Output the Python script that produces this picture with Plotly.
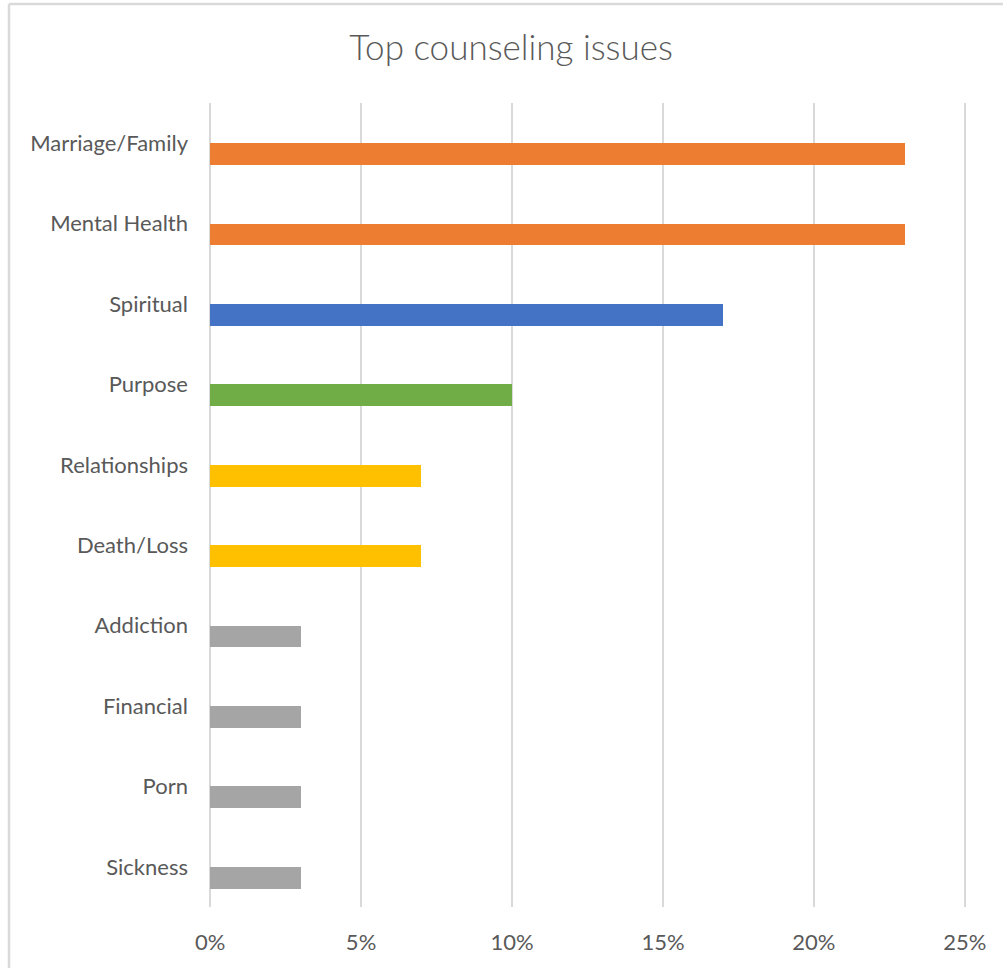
import plotly.graph_objects as go

# Categories and shares of counseling requests
categories = ["Marriage/Family", "Mental Health", "Spiritual", "Purpose", "Relationships",
              "Death/Loss", "Addiction", "Financial", "Porn", "Sickness"]
shares = [0.23, 0.23, 0.17, 0.10, 0.07, 0.07, 0.03, 0.03, 0.03, 0.03]
bar_colors = ["#ED7D31", "#ED7D31", "#4472C4", "#70AD47", "#FFC000",
              "#FFC000", "#A5A5A5", "#A5A5A5", "#A5A5A5", "#A5A5A5"]
x_ticks = [0, 0.05, 0.10, 0.15, 0.20, 0.25]
x_tick_text = ["0%", "5%", "10%", "15%", "20%", "25%"]

W, H = 1003, 968
L, R, T, B = 208, 36, 103, 61
text_color = "#595959"
font_family = "Lato, 'Open Sans', sans-serif"
x_pad = 0.0007  # keeps the 0% and 25% gridlines clear of the plot edge

fig = go.Figure(go.Bar(
    y=categories,
    x=shares,
    orientation="h",
    marker=dict(color=bar_colors, line=dict(width=0)),
    width=0.27,
    offset=0,
    hoverinfo="x+y",
))

plot_w = W - L - R
plot_h = H - T - B

def px_x(px):
    return (px - L) / plot_w

def px_y(py):
    return (H - B - py) / plot_h

# light chart-area frame along the top and left edges
frame = dict(type="line", xref="paper", yref="paper",
             line=dict(color="#D9D9D9", width=2.5), layer="above")
fig.add_shape(x0=px_x(9), x1=px_x(W + 5), y0=px_y(4), y1=px_y(4), **frame)
fig.add_shape(x0=px_x(9), x1=px_x(9), y0=px_y(4), y1=px_y(H + 5), **frame)

fig.update_layout(
    width=W, height=H,
    margin=dict(l=L, r=R, t=T, b=B),
    paper_bgcolor="white",
    plot_bgcolor="white",
    showlegend=False,
    bargap=0,
    title=dict(
        text="Top counseling issues",
        x=px_x(511), xref="paper", xanchor="center",
        y=1 - 48 / H, yref="container", yanchor="middle",
        font=dict(family=font_family, size=35, color=text_color, weight=300),
    ),
    font=dict(family=font_family, color=text_color),
)

fig.update_xaxes(
    range=[-x_pad, 0.25 + x_pad],
    tickvals=x_ticks,
    ticktext=x_tick_text,
    showgrid=True,
    gridcolor="#D9D9D9",
    gridwidth=1.5,
    zeroline=False,
    showline=False,
    ticks="",
    ticklabelstandoff=20,
    tickfont=dict(family=font_family, size=22, color=text_color),
)

fig.update_yaxes(
    categoryorder="array",
    categoryarray=categories,
    range=[9.5, -0.5],
    showgrid=False,
    zeroline=False,
    showline=False,
    ticks="",
    ticklabelstandoff=19,
    tickfont=dict(family=font_family, size=22, color=text_color),
)

fig.write_html("out.html")
